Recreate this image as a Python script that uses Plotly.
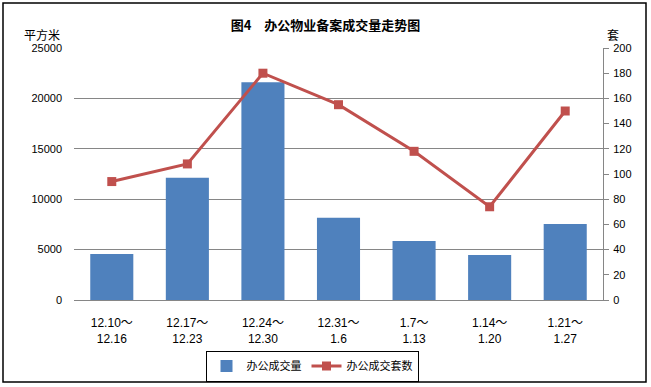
import plotly.graph_objects as go

categories = ["12.10～<br>12.16", "12.17～<br>12.23", "12.24～<br>12.30", "12.31～<br>1.6",
              "1.7～<br>1.13", "1.14～<br>1.20", "1.21～<br>1.27"]
area_values = [4570, 12120, 21600, 8150, 5860, 4470, 7550]
count_values = [94, 108, 180, 155, 118, 74, 150]
left_ticks = [0, 5000, 10000, 15000, 20000, 25000]
right_ticks = [0, 20, 40, 60, 80, 100, 120, 140, 160, 180, 200]

FONT = "Liberation Sans, Noto Sans CJK SC, sans-serif"
CJK = "Noto Sans CJK SC, sans-serif"

fig = go.Figure()
fig.add_trace(go.Bar(
    x=categories, y=area_values, name="办公成交量",
    marker=dict(color="#4F81BD", line=dict(width=0)), yaxis="y",
))
fig.add_trace(go.Scatter(
    x=categories, y=count_values, name="办公成交套数", yaxis="y2",
    mode="lines+markers",
    line=dict(color="#C0504D", width=3),
    marker=dict(symbol="square", size=9, color="#C0504D"),
))

W, H = 651, 387
ml, mr, mt, mb = 74, 48, 48, 87
pw, ph = W - ml - mr, H - mt - mb

def px(x):
    return (x - ml) / pw

def py(y):
    return (H - mb - y) / ph

fig.update_layout(
    width=W, height=H,
    margin=dict(l=ml, r=mr, t=mt, b=mb, pad=0, autoexpand=False),
    paper_bgcolor="white", plot_bgcolor="white",
    font=dict(family=FONT, size=11, color="black"),
    bargap=0.43,
    showlegend=True,
    legend=dict(
        orientation="h", x=px(312), xanchor="center", y=py(366), yanchor="middle",
        bordercolor="black", borderwidth=1, font=dict(family=CJK, size=11),
        itemwidth=30, tracegroupgap=0,
    ),
    title=dict(text="<b>图4　办公物业备案成交量走势图</b>", x=0.5, xanchor="center",
               y=1 - 25 / H, yanchor="middle", font=dict(family=CJK, size=13)),
    xaxis=dict(
        type="category", showline=True, linecolor="#868686", linewidth=1,
        ticks="", tickfont=dict(size=12), showgrid=False, ticklabelstandoff=12,
    ),
    yaxis=dict(
        range=[0, 25000], tickvals=left_ticks, ticktext=[str(v) for v in left_ticks],
        showgrid=True, gridcolor="#868686", gridwidth=1, zeroline=False,
        showline=False, ticks="", tickfont=dict(size=11), ticklabelstandoff=11,
    ),
    yaxis2=dict(
        range=[0, 200], tickvals=right_ticks, overlaying="y", side="right",
        showgrid=False, zeroline=False, showline=True, linecolor="#868686",
        ticks="outside", ticklen=5, tickcolor="#868686", tickfont=dict(size=11),
        ticklabelstandoff=2,
    ),
    shapes=[dict(type="rect", xref="paper", yref="paper",
                 x0=px(3), x1=px(646), y0=py(382), y1=py(3),
                 line=dict(color="black", width=1.5), fillcolor="rgba(0,0,0,0)")],
    annotations=[
        dict(text="平方米", xref="paper", yref="paper", x=px(62), y=py(35),
             xanchor="right", yanchor="middle", showarrow=False,
             font=dict(family=CJK, size=12)),
        dict(text="套", xref="paper", yref="paper", x=px(605), y=py(35),
             xanchor="left", yanchor="middle", showarrow=False,
             font=dict(family=CJK, size=12)),
    ],
)

fig.write_html("out.html", config={"displayModeBar": False},
               post_script="document.body.style.margin='0';")
